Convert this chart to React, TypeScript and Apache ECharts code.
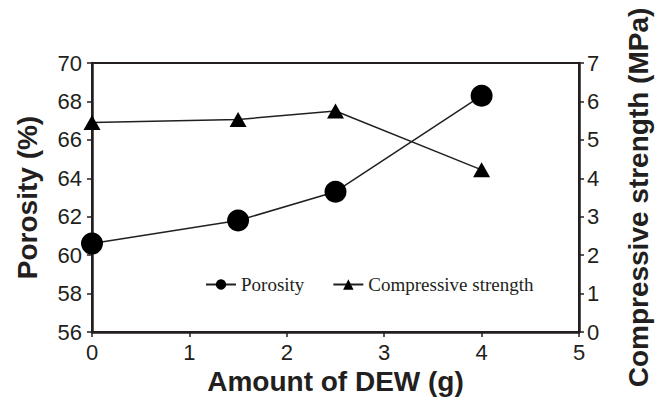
import React, { useEffect, useRef } from "react";
import * as echarts from "echarts";

const dewAmounts = [0, 1.5, 2.5, 4];
const porosity = [60.6, 61.8, 63.3, 68.3];
const strength = [5.45, 5.53, 5.75, 4.22];
const seriesNames = ["Porosity", "Compressive strength"];
const xTitle = "Amount of DEW (g)";
const leftTitle = "Porosity (%)";
const rightTitle = "Compressive strength (MPa)";

export default function App() {
  const ref = useRef<HTMLDivElement>(null);
  useEffect(() => {
    if (!ref.current) return;
    const chart = echarts.init(ref.current, null, { renderer: "svg" });
    const ink = "#231f20";
    const sans = "Liberation Sans, Arial, sans-serif";
    const serif = "Liberation Serif, Times New Roman, serif";
    chart.setOption({
      animation: false,
      backgroundColor: "#ffffff",
      grid: {
        left: 92,
        right: 77,
        top: 63,
        bottom: 74,
        containLabel: false,
        outerBoundsMode: "none",
        show: true,
        borderColor: ink,
        borderWidth: 2,
        backgroundColor: "transparent",
      },
      legend: {
        left: 200,
        top: 270,
        padding: 5,
        itemWidth: 30,
        itemHeight: 13,
        itemGap: 28,
        textStyle: { fontFamily: serif, fontSize: 19, color: ink },
        data: seriesNames,
      },
      xAxis: {
        type: "value",
        min: 0,
        max: 5,
        interval: 1,
        name: xTitle,
        nameLocation: "middle",
        nameGap: 33,
        nameTextStyle: { fontFamily: sans, fontSize: 28, fontWeight: "bold", color: ink },
        axisLine: { show: true, onZero: false, lineStyle: { color: ink, width: 2.5 } },
        axisTick: { show: true, length: 5, inside: false, lineStyle: { color: ink, width: 1.5 } },
        axisLabel: { fontFamily: sans, fontSize: 22, color: ink, margin: 9 },
        splitLine: { show: false },
      },
      yAxis: [
        {
          type: "value",
          min: 56,
          max: 70,
          interval: 2,
          position: "left",
          name: leftTitle,
          nameLocation: "middle",
          nameGap: 51,
          nameTextStyle: { fontFamily: sans, fontSize: 28, fontWeight: "bold", color: ink },
          axisLine: { show: true, onZero: false, lineStyle: { color: ink, width: 2.5 } },
          axisTick: { show: true, length: 5, lineStyle: { color: ink, width: 1.5 } },
          axisLabel: { fontFamily: sans, fontSize: 22, color: ink, margin: 10 },
          splitLine: { show: false },
        },
        {
          type: "value",
          min: 0,
          max: 7,
          interval: 1,
          position: "right",
          name: rightTitle,
          nameLocation: "middle",
          nameGap: 45,
          nameTextStyle: { fontFamily: sans, fontSize: 28, fontWeight: "bold", color: ink },
          axisLine: { show: true, onZero: false, lineStyle: { color: ink, width: 2.5 } },
          axisTick: { show: true, length: 5, lineStyle: { color: ink, width: 1.5 } },
          axisLabel: { fontFamily: sans, fontSize: 22, color: ink, margin: 8 },
          splitLine: { show: false },
        },
      ],
      series: [
        {
          name: seriesNames[0],
          type: "line",
          yAxisIndex: 0,
          data: dewAmounts.map((x, i) => [x, porosity[i]]),
          symbol: "circle",
          symbolSize: 22,
          lineStyle: { color: ink, width: 1.5 },
          itemStyle: { color: "#000" },
          clip: false,
        },
        {
          name: seriesNames[1],
          type: "line",
          yAxisIndex: 1,
          data: dewAmounts.map((x, i) => [x, strength[i]]),
          symbol: "triangle",
          symbolSize: [17, 15],
          lineStyle: { color: ink, width: 1.5 },
          itemStyle: { color: "#000" },
          clip: false,
        },
      ],
    });
    return () => chart.dispose();
  }, []);
  return (
    <div
      ref={ref}
      style={{ position: "fixed", left: 0, top: 0, width: 656, height: 406 }}
    />
  );
}
